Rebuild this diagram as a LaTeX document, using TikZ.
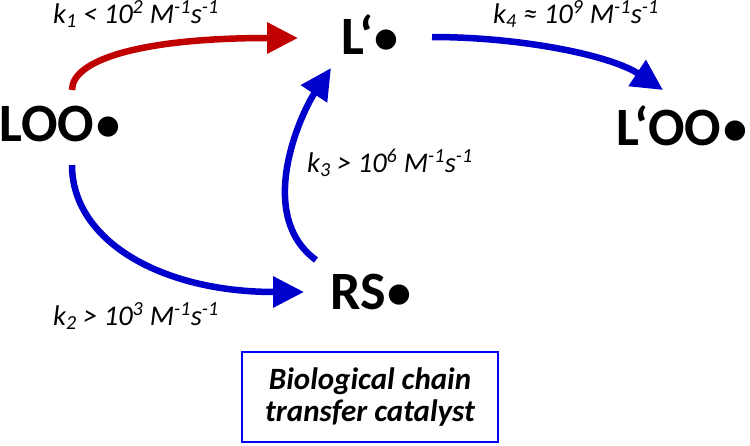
\documentclass[tikz,border=0pt]{standalone}
\usepackage{fontspec}
\setmainfont{Carlito}
\usetikzlibrary{arrows.meta}
\definecolor{arrblue}{RGB}{0,0,204}
\definecolor{arrred}{RGB}{192,0,0}
\definecolor{boxblue}{RGB}{0,0,255}
\newcommand{\rdot}{\kern2pt\raisebox{1pt}{\fontsize{48}{48}\selectfont•}}
\begin{document}
\begin{tikzpicture}[x=1pt,y=-1pt,
  species/.style={font=\fontsize{54}{56}\selectfont\bfseries, inner sep=0pt},
  rate/.style={font=\fontsize{28.5}{30}\selectfont\itshape, inner sep=0pt, anchor=base west},
  conn/.style={line width=6.5pt, -{Triangle[length=31pt,width=30pt]}},
  catbox/.style={draw=boxblue, line width=2.5pt, minimum width=256pt, minimum height=90pt, align=center,
    font=\fontsize{31}{32}\selectfont\bfseries\itshape}
  ]
\useasboundingbox (0,0) rectangle (750,445);
\node[species, anchor=west] (loo) at (-1,124) {LOO\rdot};
\node[species] (lp) at (370,35) {L‘\rdot};
\node[species] (loo2) at (682,126) {L‘OO\rdot};
\node[species] (rs) at (371,292) {RS\rdot};

\draw[conn, arrred] ([shift={(73,-34)}]loo.west) .. controls (72,60) and (140,38) .. ([shift={(-72,3)}]lp.center);
\draw[conn, arrblue] ([shift={(73,41)}]loo.west) .. controls (72,240) and (160,292) .. ([shift={(-67,0)}]rs.center);
\draw[conn, arrblue] ([shift={(-55,-32)}]rs.center) .. controls (255,215) and (300,115) .. ([shift={(-39,33)}]lp.center);
\draw[conn, arrblue] ([shift={(62,2)}]lp.center) .. controls (520,37) and (610,55) .. ([shift={(-19,-36)}]loo2.center);

\node[rate] (k1) at (53,23) {k\textsubscript{1} < 10\textsuperscript{2} M\textsuperscript{-1}s\textsuperscript{-1}};
\node[rate] (k4) at (493,23) {k\textsubscript{4} ≈ 10\textsuperscript{9} M\textsuperscript{-1}s\textsuperscript{-1}};
\node[rate] (k3) at (307,172) {k\textsubscript{3} > 10\textsuperscript{6} M\textsuperscript{-1}s\textsuperscript{-1}};
\node[rate] (k2) at (53,325) {k\textsubscript{2} > 10\textsuperscript{3} M\textsuperscript{-1}s\textsuperscript{-1}};

\node[catbox] (cat) at (370,397) {Biological chain\\transfer catalyst};
\end{tikzpicture}
\end{document}
